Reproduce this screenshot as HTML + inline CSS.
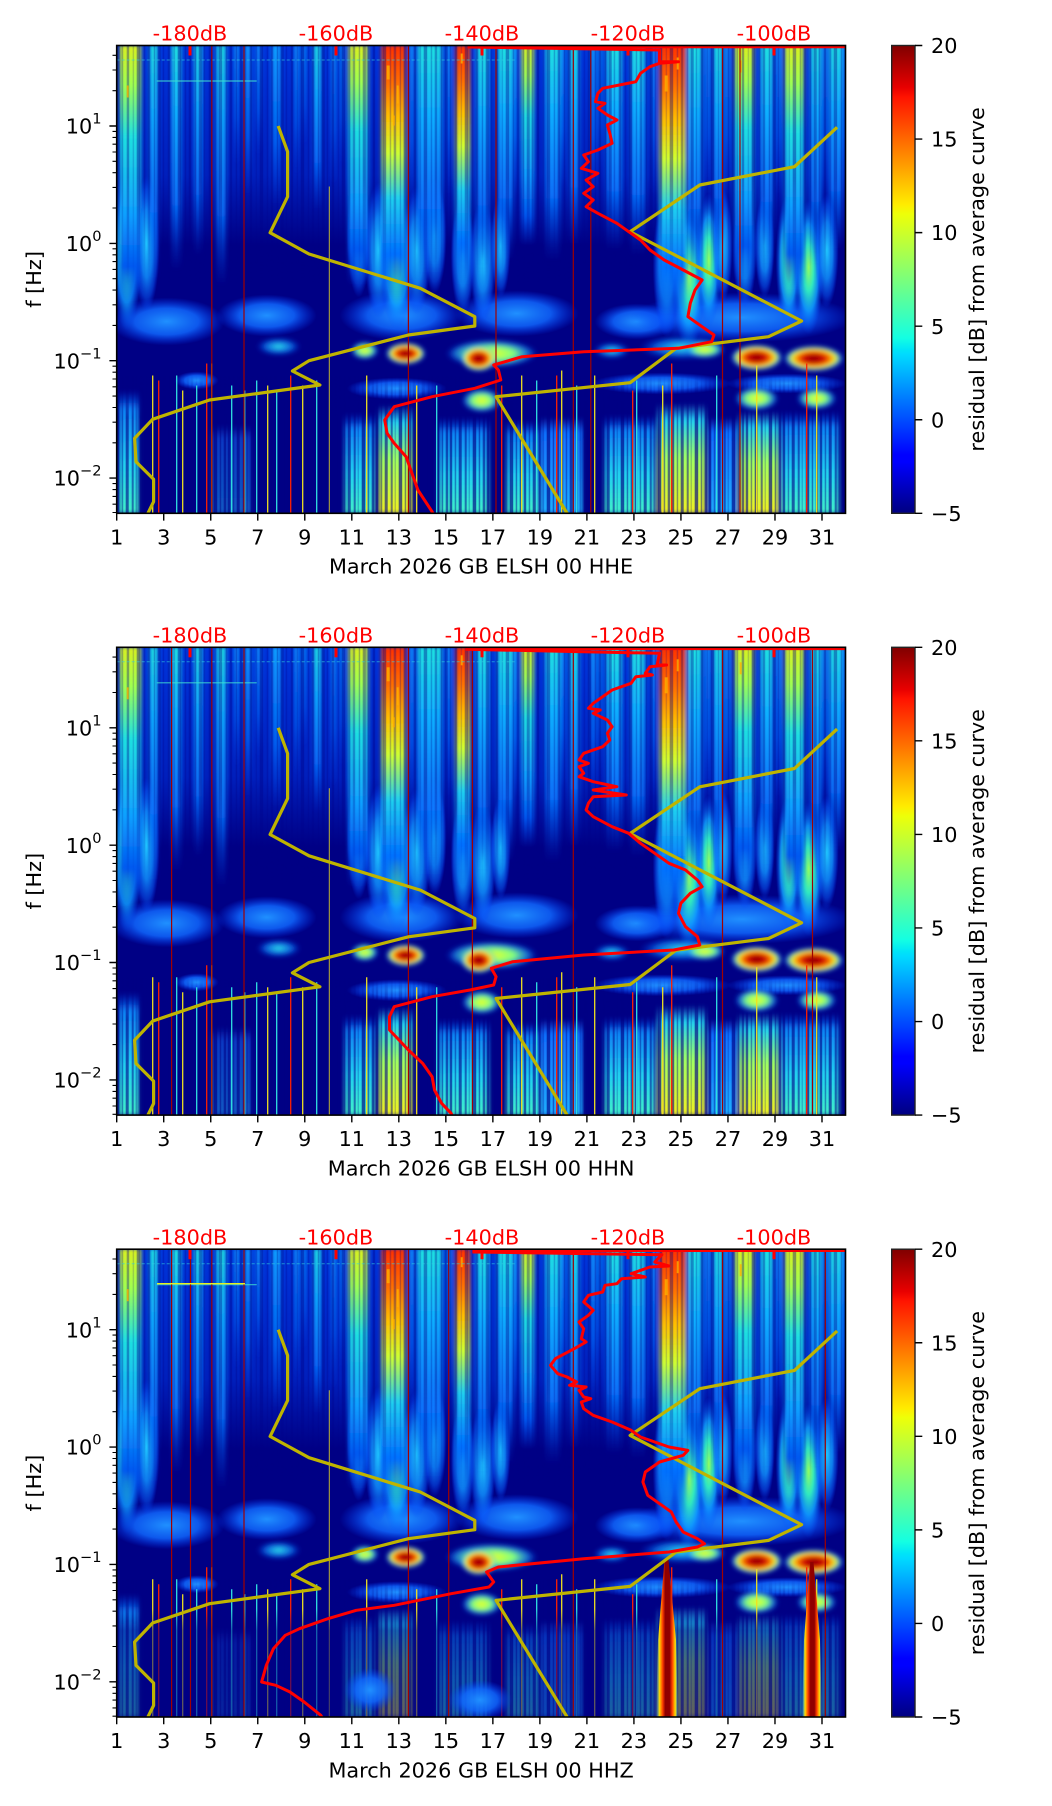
<!DOCTYPE html>
<html><head><meta charset="utf-8">
<style>html,body{margin:0;padding:0;background:#fff}svg{display:block}</style>
</head><body>
<svg width="1052" height="1806" viewBox="0 0 1052 1806" xmlns="http://www.w3.org/2000/svg" xmlns:xlink="http://www.w3.org/1999/xlink" font-family="'DejaVu Sans','Liberation Sans',sans-serif" font-size="20.8">
<defs>
<linearGradient id="jet" x1="0" y1="1" x2="0" y2="0">
<stop offset="0" stop-color="#000080"/><stop offset="0.11" stop-color="#0000ff"/><stop offset="0.125" stop-color="#0000ff"/>
<stop offset="0.34" stop-color="#00dbff"/><stop offset="0.35" stop-color="#00e5f7"/><stop offset="0.375" stop-color="#14ffe2"/>
<stop offset="0.5" stop-color="#7bff7b"/><stop offset="0.64" stop-color="#eeff08"/><stop offset="0.66" stop-color="#ffec00"/>
<stop offset="0.89" stop-color="#ff1300"/><stop offset="0.91" stop-color="#e80000"/><stop offset="1" stop-color="#800000"/>
</linearGradient>
<linearGradient id="gHaze" x1="0" y1="0" x2="0" y2="1">
<stop offset="0" stop-color="#0040f0" stop-opacity=".8"/><stop offset="0.65" stop-color="#0038e8" stop-opacity=".55"/><stop offset="1" stop-color="#0030e0" stop-opacity="0"/>
</linearGradient>
<linearGradient id="gHot" x1="0" y1="0" x2="0" y2="1">
<stop offset="0" stop-color="#ff3000"/><stop offset="0.15" stop-color="#ff7000"/><stop offset="0.28" stop-color="#ffc000"/>
<stop offset="0.42" stop-color="#d0ff30"/><stop offset="0.6" stop-color="#20d0f0"/><stop offset="0.82" stop-color="#0070ff"/><stop offset="1" stop-color="#0040e0" stop-opacity="0"/>
</linearGradient>
<linearGradient id="gBright" x1="0" y1="0" x2="0" y2="1">
<stop offset="0" stop-color="#d8f020"/><stop offset="0.15" stop-color="#a0ff50"/><stop offset="0.35" stop-color="#20e0e0"/>
<stop offset="0.65" stop-color="#10a0ff"/><stop offset="0.85" stop-color="#0058f0"/><stop offset="1" stop-color="#0040e0" stop-opacity="0"/>
</linearGradient>
<linearGradient id="gMed" x1="0" y1="0" x2="0" y2="1">
<stop offset="0" stop-color="#20e0e0"/><stop offset="0.3" stop-color="#10b0ff"/><stop offset="0.7" stop-color="#0878ff" stop-opacity=".9"/><stop offset="1" stop-color="#0040e0" stop-opacity="0"/>
</linearGradient>
<linearGradient id="gFaint" x1="0" y1="0" x2="0" y2="1">
<stop offset="0" stop-color="#10a0ff"/><stop offset="0.6" stop-color="#0060f0"/><stop offset="1" stop-color="#0040e0" stop-opacity="0"/>
</linearGradient>
<linearGradient id="gLC" x1="0" y1="0" x2="0" y2="1">
<stop offset="0" stop-color="#0050ff" stop-opacity="0"/><stop offset="0.15" stop-color="#1090ff" stop-opacity=".9"/><stop offset="0.6" stop-color="#20d0f0"/><stop offset="1" stop-color="#40f0c8"/>
</linearGradient>
<linearGradient id="gLY" x1="0" y1="0" x2="0" y2="1">
<stop offset="0" stop-color="#30c0ff" stop-opacity="0"/><stop offset="0.15" stop-color="#20d0f0"/><stop offset="0.5" stop-color="#a0ff60"/><stop offset="1" stop-color="#f0f020"/>
</linearGradient>
<linearGradient id="gLB" x1="0" y1="0" x2="0" y2="1">
<stop offset="0" stop-color="#2070ff" stop-opacity="0"/><stop offset="0.15" stop-color="#1070ff"/><stop offset="1" stop-color="#20b0ff"/>
</linearGradient>
<linearGradient id="gRS" x1="0" y1="0" x2="1" y2="0">
<stop offset="0" stop-color="#40e0ff" stop-opacity="0"/><stop offset="0.15" stop-color="#ffe000"/><stop offset="0.3" stop-color="#ff4000"/>
<stop offset="0.42" stop-color="#900000"/><stop offset="0.62" stop-color="#900000"/><stop offset="0.74" stop-color="#ff4000"/><stop offset="0.88" stop-color="#ffe000"/><stop offset="1" stop-color="#40e0ff" stop-opacity="0"/>
</linearGradient>
<linearGradient id="gNavy" x1="0" y1="0" x2="0" y2="1">
<stop offset="0" stop-color="#000085" stop-opacity="0"/><stop offset="0.2" stop-color="#000085" stop-opacity=".55"/><stop offset="1" stop-color="#000085" stop-opacity=".6"/>
</linearGradient>
<linearGradient id="gMU" x1="0" y1="0" x2="0" y2="1">
<stop offset="0" stop-color="#fff"/><stop offset="0.55" stop-color="#fff"/><stop offset="1" stop-color="#000"/>
</linearGradient>
<linearGradient id="gML" x1="0" y1="0" x2="0" y2="1">
<stop offset="0" stop-color="#000"/><stop offset="0.3" stop-color="#fff"/><stop offset="1" stop-color="#fff"/>
</linearGradient>
<mask id="mUp" maskUnits="userSpaceOnUse" x="0" y="0" width="729" height="240"><rect width="729" height="240" fill="url(#gMU)"/></mask>
<mask id="mLo" maskUnits="userSpaceOnUse" x="0" y="330" width="729" height="140"><rect y="330" width="729" height="140" fill="url(#gML)"/></mask>
<radialGradient id="rHot">
<stop offset="0" stop-color="#800000"/><stop offset="0.35" stop-color="#d00000"/><stop offset="0.55" stop-color="#ff8000"/>
<stop offset="0.75" stop-color="#e0ff30"/><stop offset="0.9" stop-color="#30d0ff" stop-opacity=".6"/><stop offset="1" stop-color="#0040ff" stop-opacity="0"/>
</radialGradient>
<radialGradient id="rYel">
<stop offset="0" stop-color="#f0ff20"/><stop offset="0.5" stop-color="#80ff80"/><stop offset="0.8" stop-color="#20b0ff" stop-opacity=".6"/><stop offset="1" stop-color="#0040ff" stop-opacity="0"/>
</radialGradient>
<radialGradient id="rCyan">
<stop offset="0" stop-color="#30e8e8"/><stop offset="0.6" stop-color="#1090ff" stop-opacity=".7"/><stop offset="1" stop-color="#0040ff" stop-opacity="0"/>
</radialGradient>
<radialGradient id="rFan">
<stop offset="0" stop-color="#20c8ff"/><stop offset="0.5" stop-color="#1090ff" stop-opacity=".85"/><stop offset="0.8" stop-color="#0860ff" stop-opacity=".5"/><stop offset="1" stop-color="#0040ff" stop-opacity="0"/>
</radialGradient>
<radialGradient id="rFanG">
<stop offset="0" stop-color="#90ff60"/><stop offset="0.35" stop-color="#30e8c0"/><stop offset="0.65" stop-color="#10a0ff" stop-opacity=".85"/><stop offset="1" stop-color="#0050ff" stop-opacity="0"/>
</radialGradient>
<radialGradient id="rCloud">
<stop offset="0" stop-color="#2090ff"/><stop offset="0.55" stop-color="#1068ff" stop-opacity=".85"/><stop offset="1" stop-color="#0040ff" stop-opacity="0"/>
</radialGradient>
<pattern id="pUp" width="41" height="50" patternUnits="userSpaceOnUse">
<rect x="0" width="3" height="50" fill="#000085" opacity=".5"/><rect x="5" width="1.5" height="50" fill="#000085" opacity=".35"/>
<rect x="10" width="2.5" height="50" fill="#000085" opacity=".5"/><rect x="16" width="1.2" height="50" fill="#000085" opacity=".3"/>
<rect x="20" width="3.5" height="50" fill="#000085" opacity=".55"/><rect x="27" width="1.5" height="50" fill="#000085" opacity=".35"/>
<rect x="31" width="2.5" height="50" fill="#000085" opacity=".45"/><rect x="37" width="1.5" height="50" fill="#000085" opacity=".4"/>
</pattern>
<pattern id="pLo" width="37" height="50" patternUnits="userSpaceOnUse">
<rect x="0" width="2.5" height="50" fill="#000085" opacity=".6"/><rect x="5" width="1.5" height="50" fill="#000085" opacity=".4"/>
<rect x="9" width="3" height="50" fill="#000085" opacity=".6"/><rect x="15" width="2" height="50" fill="#000085" opacity=".5"/>
<rect x="19" width="1" height="50" fill="#000085" opacity=".3"/><rect x="23" width="3.5" height="50" fill="#000085" opacity=".65"/>
<rect x="29" width="1.5" height="50" fill="#000085" opacity=".45"/><rect x="33" width="2.5" height="50" fill="#000085" opacity=".55"/>
</pattern>
<filter id="fb2" x="-5%" y="-5%" width="110%" height="110%"><feGaussianBlur stdDeviation="2 1.5"/></filter>
<filter id="fb3" x="-10%" y="-10%" width="120%" height="120%"><feGaussianBlur stdDeviation="2.5"/></filter>
<clipPath id="c1"><rect x="116.7" y="45.5" width="728.8" height="467.8"/></clipPath>
<clipPath id="c2"><rect x="116.7" y="647.3" width="728.8" height="467.8"/></clipPath>
<clipPath id="c3"><rect x="116.7" y="1249.2" width="728.8" height="467.8"/></clipPath>

<g id="spec">
<rect width="729" height="468" fill="#000085"/>
<rect width="729" height="200" fill="url(#gHaze)"/>
<!-- clouds 0.15-0.3 Hz -->
<ellipse cx="50" cy="276" rx="58" ry="24" fill="url(#rCloud)"/>
<ellipse cx="150" cy="270" rx="50" ry="21" fill="url(#rCloud)"/>
<ellipse cx="285" cy="270" rx="62" ry="25" fill="url(#rCloud)"/>
<ellipse cx="400" cy="268" rx="62" ry="23" fill="url(#rCloud)"/>
<ellipse cx="520" cy="276" rx="42" ry="18" fill="url(#rCloud)"/>
<ellipse cx="625" cy="272" rx="112" ry="25" fill="url(#rCloud)"/>
<ellipse cx="80" cy="335" rx="22" ry="9" fill="url(#rCloud)"/>
<ellipse cx="280" cy="343" rx="50" ry="11" fill="url(#rCloud)"/>
<ellipse cx="545" cy="338" rx="70" ry="11" fill="url(#rCloud)"/>
<ellipse cx="670" cy="338" rx="60" ry="10" fill="url(#rCloud)"/>
<!-- fans 0.3-1 Hz -->
<ellipse cx="10" cy="205" rx="15" ry="80" fill="url(#rFanG)"/>
<ellipse cx="30" cy="198" rx="13" ry="68" fill="url(#rFan)"/>
<ellipse cx="242" cy="190" rx="12" ry="62" fill="url(#rFan)"/>
<ellipse cx="262" cy="205" rx="14" ry="68" fill="url(#rFan)"/>
<ellipse cx="280" cy="215" rx="17" ry="70" fill="url(#rFanG)"/>
<ellipse cx="300" cy="205" rx="14" ry="64" fill="url(#rFan)"/>
<ellipse cx="318" cy="190" rx="12" ry="58" fill="url(#rFan)"/>
<ellipse cx="346" cy="210" rx="12" ry="60" fill="url(#rFan)"/>
<ellipse cx="366" cy="215" rx="13" ry="62" fill="url(#rFan)"/>
<ellipse cx="384" cy="200" rx="10" ry="52" fill="url(#rFan)"/>
<ellipse cx="550" cy="220" rx="14" ry="72" fill="url(#rFan)"/>
<ellipse cx="572" cy="230" rx="17" ry="74" fill="url(#rFanG)"/>
<ellipse cx="592" cy="215" rx="13" ry="67" fill="url(#rFanG)"/>
<ellipse cx="606" cy="200" rx="10" ry="57" fill="url(#rFan)"/>
<ellipse cx="628" cy="205" rx="12" ry="57" fill="url(#rFan)"/>
<ellipse cx="648" cy="200" rx="10" ry="52" fill="url(#rFan)"/>
<ellipse cx="672" cy="215" rx="13" ry="67" fill="url(#rFanG)"/>
<ellipse cx="692" cy="222" rx="15" ry="67" fill="url(#rFanG)"/>
<ellipse cx="710" cy="205" rx="12" ry="57" fill="url(#rFan)"/>
<g filter="url(#fb2)">
<rect x="3" y="0" width="21" height="260" fill="url(#gBright)"/>
<rect x="33" y="0" width="8" height="235" fill="url(#gMed)"/>
<rect x="55" y="0" width="9" height="225" fill="url(#gMed)"/>
<rect x="78" y="0" width="7" height="210" fill="url(#gMed)"/>
<rect x="100" y="0" width="9" height="240" fill="url(#gMed)"/>
<rect x="128" y="0" width="6" height="150" fill="url(#gFaint)"/>
<rect x="155" y="0" width="9" height="160" fill="url(#gFaint)"/>
<rect x="197" y="0" width="7" height="165" fill="url(#gMed)"/>
<rect x="232" y="0" width="19" height="240" fill="url(#gBright)"/>
<rect x="265" y="0" width="24" height="255" fill="url(#gHot)"/>
<rect x="301" y="0" width="24" height="230" fill="url(#gMed)"/>
<rect x="339" y="0" width="14" height="240" fill="url(#gHot)"/>
<rect x="360" y="0" width="12" height="225" fill="url(#gMed)"/>
<rect x="381" y="0" width="15" height="215" fill="url(#gMed)"/>
<rect x="405" y="0" width="12" height="200" fill="url(#gBright)"/>
<rect x="429" y="0" width="14" height="215" fill="url(#gMed)"/>
<rect x="453" y="0" width="9" height="200" fill="url(#gMed)"/>
<rect x="490" y="0" width="15" height="205" fill="url(#gMed)"/>
<rect x="514" y="0" width="14" height="210" fill="url(#gMed)"/>
<rect x="543" y="0" width="26" height="270" fill="url(#gHot)"/>
<rect x="571" y="0" width="14" height="230" fill="url(#gMed)"/>
<rect x="597" y="0" width="9" height="215" fill="url(#gMed)"/>
<rect x="618" y="0" width="19" height="235" fill="url(#gBright)"/>
<rect x="644" y="0" width="12" height="220" fill="url(#gMed)"/>
<rect x="668" y="0" width="19" height="245" fill="url(#gBright)"/>
<rect x="694" y="0" width="10" height="220" fill="url(#gMed)"/>
<rect x="713" y="0" width="12" height="205" fill="url(#gMed)"/>
<rect x="118" y="0" width="4" height="120" fill="url(#gFaint)"/>
<rect x="140" y="0" width="4" height="110" fill="url(#gFaint)"/>
<rect x="178" y="0" width="4" height="130" fill="url(#gFaint)"/>
<rect x="186" y="0" width="3" height="100" fill="url(#gFaint)"/>
<rect x="215" y="0" width="4" height="140" fill="url(#gFaint)"/>
<rect x="224" y="0" width="3" height="120" fill="url(#gFaint)"/>
<rect x="293" y="0" width="4" height="160" fill="url(#gFaint)"/>
<rect x="330" y="0" width="4" height="150" fill="url(#gFaint)"/>
<rect x="397" y="0" width="4" height="150" fill="url(#gFaint)"/>
<rect x="444" y="0" width="4" height="140" fill="url(#gFaint)"/>
<rect x="474" y="0" width="5" height="150" fill="url(#gFaint)"/>
<rect x="482" y="0" width="3" height="130" fill="url(#gFaint)"/>
<rect x="535" y="0" width="4" height="150" fill="url(#gFaint)"/>
<rect x="589" y="0" width="4" height="150" fill="url(#gFaint)"/>
<rect x="609" y="0" width="4" height="150" fill="url(#gFaint)"/>
<rect x="660" y="0" width="4" height="150" fill="url(#gFaint)"/>
<rect x="706" y="0" width="4" height="150" fill="url(#gFaint)"/>
<rect x="724" y="0" width="4" height="150" fill="url(#gFaint)"/>
</g>
<rect x="0" y="0" width="729" height="240" fill="url(#pUp)" mask="url(#mUp)" opacity=".7"/>
<g fill="#ffb000" opacity=".8">
<rect x="270" y="20" width="3" height="14"/><rect x="280" y="40" width="2" height="18"/><rect x="276" y="70" width="2" height="10"/>
<rect x="10" y="40" width="2" height="12"/><rect x="548" y="30" width="3" height="16"/>
<rect x="560" y="12" width="2" height="12"/><rect x="344" y="8" width="2" height="10"/><rect x="623" y="15" width="2" height="12"/>
</g>
<g filter="url(#fb3)">
<rect x="2" y="345" width="20" height="123" fill="url(#gLC)"/>
<rect x="95" y="380" width="40" height="88" fill="url(#gLB)" opacity=".5"/>
<rect x="228" y="368" width="30" height="100" fill="url(#gLC)"/>
<rect x="262" y="360" width="34" height="108" fill="url(#gLY)"/>
<rect x="322" y="372" width="50" height="96" fill="url(#gLC)"/>
<rect x="390" y="375" width="32" height="93" fill="url(#gLC)"/>
<rect x="424" y="372" width="42" height="96" fill="url(#gLB)"/>
<rect x="488" y="370" width="50" height="98" fill="url(#gLC)"/>
<rect x="541" y="358" width="48" height="110" fill="url(#gLY)"/>
<rect x="592" y="372" width="28" height="96" fill="url(#gLB)"/>
<rect x="622" y="366" width="40" height="102" fill="url(#gLY)"/>
<rect x="664" y="366" width="58" height="102" fill="url(#gLC)"/>
</g>
<rect x="0" y="330" width="729" height="140" fill="url(#pLo)" mask="url(#mLo)"/>
<g filter="url(#fb3)">
<ellipse cx="162" cy="301" rx="22" ry="9" fill="url(#rCyan)"/>
<ellipse cx="248" cy="305" rx="14" ry="9" fill="url(#rYel)"/>
<ellipse cx="495" cy="305" rx="18" ry="8" fill="url(#rCyan)"/>
<ellipse cx="565" cy="302" rx="42" ry="12" fill="url(#rCyan)"/>
<ellipse cx="588" cy="304" rx="20" ry="9" fill="url(#rYel)"/>
<ellipse cx="375" cy="308" rx="46" ry="14" fill="url(#rYel)"/>
<ellipse cx="289" cy="308" rx="20" ry="11" fill="url(#rHot)"/>
<ellipse cx="362" cy="313" rx="18" ry="13" fill="url(#rHot)"/>
<ellipse cx="640" cy="312" rx="26" ry="13" fill="url(#rHot)"/>
<ellipse cx="697" cy="313" rx="30" ry="13" fill="url(#rHot)"/>
<ellipse cx="365" cy="355" rx="20" ry="12" fill="url(#rYel)"/>
<ellipse cx="640" cy="353" rx="22" ry="12" fill="url(#rYel)"/>
<ellipse cx="700" cy="353" rx="20" ry="11" fill="url(#rYel)"/>
</g>
<g stroke-width="1.3">
<path d="M36 330V468M95 318V468M151 340V468M250 330V468M300 340V468M405 330V468M445 325V468M478 330V468M546 340V468M640 320V468M700 330V468M66 345V468M186 340V468" stroke="#f0e020"/>
<path d="M212.6 141V468" stroke="#f0e020" stroke-width="1" opacity=".8"/>
<path d="M42 335V468M90 318V468M174 330V468M385 340V468M440 330V468M555 318V468M690 318V468M516 345V468" stroke="#ff2000"/>
<path d="M60 330V468M115 340V468M140 335V468M160 345V468M200 335V468M320 340V468M420 335V468M460 340V468M520 335V468M600 330V468M80 340V468M128 345V468" stroke="#30e0e0"/>
</g>
<path d="M0 14.5H400" stroke="#30d0e0" stroke-width="1" stroke-dasharray="3 2" opacity=".6"/>
<path d="M40 35.5H140" stroke="#40e0d0" stroke-width="1.2" opacity=".8"/>
</g>

<g id="yel" fill="none" stroke="#bfb400" stroke-width="3.2" stroke-linejoin="round">
<polyline points="278.2,126 287.6,151.7 287.6,196.7 270.1,232.7 309,254 420.3,288.3 474.8,316.7 474.8,326 408.4,335 309,360.7 292.4,371 319.9,385 209.5,400 152.6,419.3 134.6,438.3 136,461.7 153.6,479.3 153.6,501.7 147.9,513.3"/>
<polyline points="837.1,127.3 794.5,166.7 699.8,185 630.1,231.7 801.6,321 768.5,336.7 676.1,348.3 630.1,382.7 496.1,396.7 567.1,513.3"/>
</g>

<g id="axt" fill="none" stroke="#000" stroke-width="1.4">
<path d="M0 467.8v7.3M47.02 467.8v7.3M94.04 467.8v7.3M141.06 467.8v7.3M188.08 467.8v7.3M235.1 467.8v7.3M282.12 467.8v7.3M329.14 467.8v7.3M376.16 467.8v7.3M423.18 467.8v7.3M470.2 467.8v7.3M517.22 467.8v7.3M564.24 467.8v7.3M611.26 467.8v7.3M658.28 467.8v7.3M705.3 467.8v7.3"/>
<path d="M0 80.5h-7.3M0 197.9h-7.3M0 315.2h-7.3M0 432.6h-7.3"/>
<path stroke-width="1.1" d="M0 45.2h-4.2M0 24.5h-4.2M0 9.8h-4.2M0 162.5h-4.2M0 141.9h-4.2M0 127.2h-4.2M0 115.8h-4.2M0 106.5h-4.2M0 98.7h-4.2M0 91.9h-4.2M0 85.9h-4.2M0 279.9h-4.2M0 259.3h-4.2M0 244.6h-4.2M0 233.2h-4.2M0 223.9h-4.2M0 216.1h-4.2M0 209.3h-4.2M0 203.3h-4.2M0 397.3h-4.2M0 376.7h-4.2M0 362h-4.2M0 350.6h-4.2M0 341.3h-4.2M0 333.5h-4.2M0 326.7h-4.2M0 320.7h-4.2M0 458.7h-4.2M0 450.9h-4.2M0 444.1h-4.2M0 438.1h-4.2M0 467h-4.2"/>
<rect x="0" y="0" width="728.8" height="467.8" stroke-width="1.6"/>
</g>
<g id="redt" fill="#ff0000">
<rect x="188.5" y="0" width="3" height="10"/><rect x="334.5" y="0" width="3" height="10"/><rect x="480.5" y="0" width="3" height="10"/><rect x="626.5" y="0" width="3" height="10"/><rect x="772.5" y="0" width="3" height="10"/>
</g>
<g id="cbar">
<rect x="0" y="0" width="23.3" height="467.8" fill="url(#jet)" stroke="#222" stroke-width="1.4"/>
<path d="M23.3 0h7.3M23.3 93.56h7.3M23.3 187.12h7.3M23.3 280.68h7.3M23.3 374.24h7.3M23.3 467.8h7.3" stroke="#000" stroke-width="1.4"/>
</g>
</defs>

<!-- ================= PANEL 1 ================= -->
<g clip-path="url(#c1)">
<use xlink:href="#spec" href="#spec" x="116.7" y="45.5"/>
<path d="M211.8 45.5V513.3M244 45.5V513.3M408.4 45.5V513.3M496 45.5V513.3M573.3 45.5V513.3M590.8 45.5V513.3M722.5 45.5V513.3M740 45.5V513.3" stroke="#a00000" stroke-width="1.2"/>
<use xlink:href="#yel" href="#yel"/>
<path d="M467.6 46.8H845.5" stroke="#ff0000" stroke-width="3"/>
<polyline fill="none" stroke="#ff0000" stroke-width="3" stroke-linejoin="round" points="467.6,47 659.5,50 659.5,61.7 678.5,61.7 659.5,63.3 650,66.7 640.5,73.3 635.8,81.7 602.7,88.3 597.9,93.3 595.5,101.7 605,103.3 597.9,108.3 607.4,115 616.9,120 607.4,125 609.8,133.3 612.1,143.3 597.9,150 583.7,155 588.4,161.7 581.3,168.3 597.9,173.3 586.1,180 593.2,186.7 583.7,193.3 593.2,200 586.1,206.7 597.9,213.3 616.9,223.3 628.7,231.7 640.5,240 650,250 664.2,260 683.2,270 702.1,280 695,290 690.3,303.3 687.9,316.7 702.1,326.7 714,335 711.6,341.7 678.5,348.3 583.7,351.7 522.1,356.7 493.7,365 498.4,370 500.8,380 474.8,388.3 432.1,396.7 394.2,406.7 384.7,420 387.1,433.3 394.2,443.3 406.1,456.7 410.8,470 417.9,490 432.1,511.7 434,515"/>
<use xlink:href="#redt" href="#redt" y="45.5"/>
</g>
<use xlink:href="#axt" href="#axt" x="116.7" y="45.5"/>
<use xlink:href="#cbar" href="#cbar" x="891.7" y="45.5"/>
<g fill="#ff0000" text-anchor="middle">
<text x="190" y="40.6">-180dB</text><text x="336" y="40.6">-160dB</text><text x="482" y="40.6">-140dB</text><text x="628" y="40.6">-120dB</text><text x="774" y="40.6">-100dB</text>
</g>
<g fill="#000" text-anchor="middle">
<text x="116.7" y="544.3">1</text><text x="163.7" y="544.3">3</text><text x="210.7" y="544.3">5</text><text x="257.8" y="544.3">7</text><text x="304.8" y="544.3">9</text><text x="351.8" y="544.3">11</text><text x="398.8" y="544.3">13</text><text x="445.9" y="544.3">15</text><text x="492.9" y="544.3">17</text><text x="539.9" y="544.3">19</text><text x="586.9" y="544.3">21</text><text x="633.9" y="544.3">23</text><text x="680.9" y="544.3">25</text><text x="728" y="544.3">27</text><text x="775" y="544.3">29</text><text x="822" y="544.3">31</text>
<text x="481.1" y="573.6">March 2026 GB ELSH 00 HHE</text>
<text transform="translate(41,279.4) rotate(-90)">f [Hz]</text>
<text transform="translate(984,279.4) rotate(-90)">residual [dB] from average curve</text>
</g>
<g fill="#000" text-anchor="end">
<text x="101.5" y="133.6">10<tspan font-size="14.6" dy="-10">1</tspan></text>
<text x="101.5" y="251">10<tspan font-size="14.6" dy="-10">0</tspan></text>
<text x="101.5" y="368.3">10<tspan font-size="14.6" dy="-10">−1</tspan></text>
<text x="101.5" y="485.7">10<tspan font-size="14.6" dy="-10">−2</tspan></text>
</g>
<g fill="#000">
<text x="931" y="53.1">20</text><text x="931" y="146.7">15</text><text x="931" y="240.2">10</text><text x="931" y="333.8">5</text><text x="931" y="427.3">0</text><text x="931" y="520.9">−5</text>
</g>

<!-- ================= PANEL 2 ================= -->
<g clip-path="url(#c2)">
<use xlink:href="#spec" href="#spec" x="116.7" y="647.3"/>
<path d="M171.6 647.3V1115.1M211.8 647.3V1115.1M244 647.3V1115.1M408.4 647.3V1115.1M472.4 647.3V1115.1M573.3 647.3V1115.1M722.5 647.3V1115.1M812.5 647.3V1115.1" stroke="#a00000" stroke-width="1.2"/>
<use xlink:href="#yel" href="#yel" y="601.8"/>
<path d="M465.3 648.6H845.5" stroke="#ff0000" stroke-width="3"/>
<polyline fill="none" stroke="#ff0000" stroke-width="3" stroke-linejoin="round" points="465.3,649.3 659.5,653.3 657.1,665 666.6,665 650,666.7 645.3,673.3 652.4,675 635.8,676.7 631.1,683.3 612.1,690 602.7,696.7 593.2,703.3 588.4,708.3 600.3,710 593.2,713.3 607.4,720 612.1,726.7 607.4,733.3 609.8,740 602.7,746.7 583.7,753.3 579,760 588.4,763.3 579,766.7 583.7,773.3 579,776.7 593.2,781.7 616.9,786.7 593.2,790 626.3,795 593.2,796.7 588.4,803.3 586.1,810 593.2,816.7 612.1,826.7 628.7,833.3 640.5,843.3 654.8,853.3 669,863.3 685.5,870 697.4,880 702.1,886.7 690.3,893.3 680.8,903.3 678.5,913.3 685.5,926.7 697.4,936.7 699.8,945 673.7,950 583.7,955 512.7,961.7 491.3,968.3 496.1,976.7 493.7,985 470,990 432.1,996.7 394.2,1006.7 389.5,1016.7 389.5,1030 399,1040 408.4,1050 422.6,1063.3 432.1,1076.7 434.5,1090 441.6,1103.3 451.1,1113.3 453,1117"/>
<use xlink:href="#redt" href="#redt" y="647.3"/>
</g>
<use xlink:href="#axt" href="#axt" x="116.7" y="647.3"/>
<use xlink:href="#cbar" href="#cbar" x="891.7" y="647.3"/>
<g fill="#ff0000" text-anchor="middle">
<text x="190" y="642.4">-180dB</text><text x="336" y="642.4">-160dB</text><text x="482" y="642.4">-140dB</text><text x="628" y="642.4">-120dB</text><text x="774" y="642.4">-100dB</text>
</g>
<g fill="#000" text-anchor="middle">
<text x="116.7" y="1146.1">1</text><text x="163.7" y="1146.1">3</text><text x="210.7" y="1146.1">5</text><text x="257.8" y="1146.1">7</text><text x="304.8" y="1146.1">9</text><text x="351.8" y="1146.1">11</text><text x="398.8" y="1146.1">13</text><text x="445.9" y="1146.1">15</text><text x="492.9" y="1146.1">17</text><text x="539.9" y="1146.1">19</text><text x="586.9" y="1146.1">21</text><text x="633.9" y="1146.1">23</text><text x="680.9" y="1146.1">25</text><text x="728" y="1146.1">27</text><text x="775" y="1146.1">29</text><text x="822" y="1146.1">31</text>
<text x="481.1" y="1175.4">March 2026 GB ELSH 00 HHN</text>
<text transform="translate(41,881.2) rotate(-90)">f [Hz]</text>
<text transform="translate(984,881.2) rotate(-90)">residual [dB] from average curve</text>
</g>
<g fill="#000" text-anchor="end">
<text x="101.5" y="735.4">10<tspan font-size="14.6" dy="-10">1</tspan></text>
<text x="101.5" y="852.8">10<tspan font-size="14.6" dy="-10">0</tspan></text>
<text x="101.5" y="970.1">10<tspan font-size="14.6" dy="-10">−1</tspan></text>
<text x="101.5" y="1087.5">10<tspan font-size="14.6" dy="-10">−2</tspan></text>
</g>
<g fill="#000">
<text x="931" y="654.9">20</text><text x="931" y="748.5">15</text><text x="931" y="842">10</text><text x="931" y="935.6">5</text><text x="931" y="1029.1">0</text><text x="931" y="1122.7">−5</text>
</g>

<!-- ================= PANEL 3 ================= -->
<g clip-path="url(#c3)">
<use xlink:href="#spec" href="#spec" x="116.7" y="1249.2"/>
<rect x="116.7" y="1609" width="728.8" height="108" fill="url(#gNavy)"/>
<ellipse cx="480" cy="1700" rx="32" ry="20" fill="url(#rCloud)"/>
<ellipse cx="370" cy="1690" rx="26" ry="22" fill="url(#rCloud)"/>
<polygon points="664.5,1560 668.5,1560 676,1640 678,1717 656,1717 658,1640" fill="url(#gRS)"/>
<polygon points="810,1562 813.5,1562 820,1640 822,1717 802,1717 804,1640" fill="url(#gRS)"/>
<path d="M171.6 1249.2V1717M190.5 1249.2V1717M211.8 1249.2V1717M244 1249.2V1717M408.4 1249.2V1717M448.7 1249.2V1717M573.3 1249.2V1717M722.5 1249.2V1717M825.3 1249.2V1717" stroke="#a00000" stroke-width="1.2"/>
<path d="M157 1283.7H245" stroke="#e8f020" stroke-width="1.3"/>
<use xlink:href="#yel" href="#yel" y="1203.7"/>
<path d="M472.4 1250.5H845.5" stroke="#ff0000" stroke-width="3"/>
<polyline fill="none" stroke="#ff0000" stroke-width="3" stroke-linejoin="round" points="472.4,1252 661.9,1254.7 654.8,1262 669,1266 650,1267 631.1,1273.7 645.3,1277 621.6,1278.7 616.9,1283.7 605,1285.3 602.7,1292 588.4,1295.3 583.7,1302 593.2,1310.3 588.4,1315.3 579,1322 583.7,1328.7 581.3,1338.7 586.1,1342 574.2,1348.7 564.8,1353.7 555.3,1358.7 550.5,1365.3 557.7,1373.7 567.1,1377 576.6,1382 569.5,1385.3 586.1,1387 579,1390.3 583.7,1397 590.8,1398.7 581.3,1402 583.7,1408.7 593.2,1415.3 612.1,1422 631.1,1430.3 640.5,1437 654.8,1442 669,1447 687.9,1450.3 683.2,1455.3 659.5,1462 645.3,1472 642.9,1482 647.7,1495.3 661.9,1505.3 671.3,1512 676.1,1522 683.2,1532 697.4,1538.7 704.5,1543.7 697.4,1547 669,1552 583.7,1558.7 498.4,1567 486.6,1572 493.7,1582 489,1587 451.1,1593.7 394.2,1605.3 356.3,1610.3 327.9,1618.7 299.5,1628.7 285.3,1635.3 273.4,1648.7 266.3,1665.3 261.6,1682 275.8,1685.3 290,1692 304.2,1702 320.8,1715.3 323,1719"/>
<use xlink:href="#redt" href="#redt" y="1249.2"/>
</g>
<use xlink:href="#axt" href="#axt" x="116.7" y="1249.2"/>
<use xlink:href="#cbar" href="#cbar" x="891.7" y="1249.2"/>
<g fill="#ff0000" text-anchor="middle">
<text x="190" y="1244.3">-180dB</text><text x="336" y="1244.3">-160dB</text><text x="482" y="1244.3">-140dB</text><text x="628" y="1244.3">-120dB</text><text x="774" y="1244.3">-100dB</text>
</g>
<g fill="#000" text-anchor="middle">
<text x="116.7" y="1748">1</text><text x="163.7" y="1748">3</text><text x="210.7" y="1748">5</text><text x="257.8" y="1748">7</text><text x="304.8" y="1748">9</text><text x="351.8" y="1748">11</text><text x="398.8" y="1748">13</text><text x="445.9" y="1748">15</text><text x="492.9" y="1748">17</text><text x="539.9" y="1748">19</text><text x="586.9" y="1748">21</text><text x="633.9" y="1748">23</text><text x="680.9" y="1748">25</text><text x="728" y="1748">27</text><text x="775" y="1748">29</text><text x="822" y="1748">31</text>
<text x="481.1" y="1777.3">March 2026 GB ELSH 00 HHZ</text>
<text transform="translate(41,1483.1) rotate(-90)">f [Hz]</text>
<text transform="translate(984,1483.1) rotate(-90)">residual [dB] from average curve</text>
</g>
<g fill="#000" text-anchor="end">
<text x="101.5" y="1337.3">10<tspan font-size="14.6" dy="-10">1</tspan></text>
<text x="101.5" y="1454.7">10<tspan font-size="14.6" dy="-10">0</tspan></text>
<text x="101.5" y="1572">10<tspan font-size="14.6" dy="-10">−1</tspan></text>
<text x="101.5" y="1689.4">10<tspan font-size="14.6" dy="-10">−2</tspan></text>
</g>
<g fill="#000">
<text x="931" y="1256.8">20</text><text x="931" y="1350.4">15</text><text x="931" y="1443.9">10</text><text x="931" y="1537.5">5</text><text x="931" y="1631">0</text><text x="931" y="1724.6">−5</text>
</g>
</svg>
</body></html>
